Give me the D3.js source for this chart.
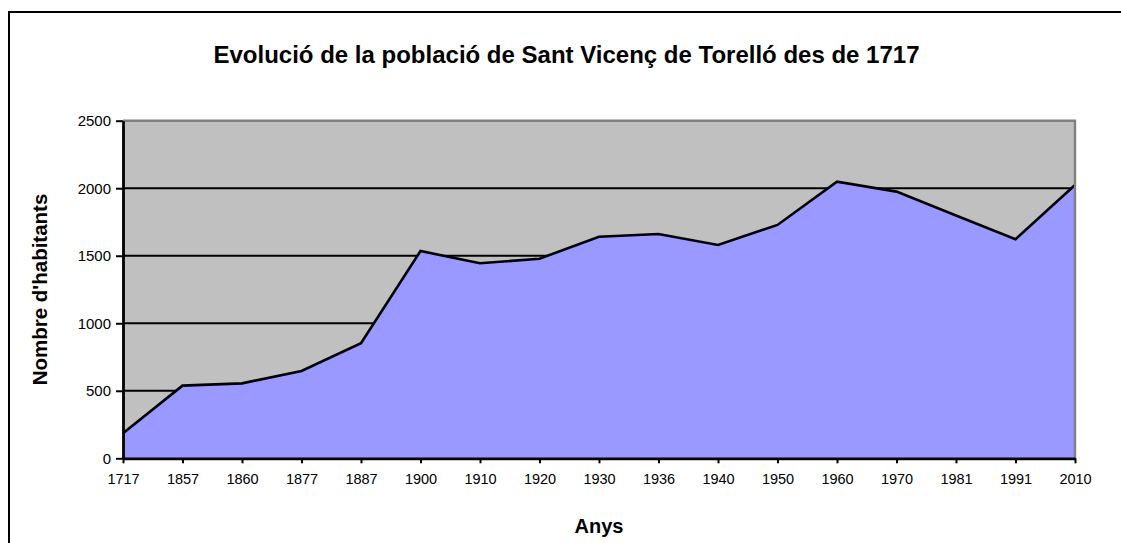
<!DOCTYPE html>
<html>
<head>
<meta charset="utf-8">
<script src="https://cdn.jsdelivr.net/npm/d3@7"></script>
<style>
  body { margin: 0; background: #fff; }
  svg { display: block; font-family: "Liberation Sans", Arial, sans-serif; }
</style>
</head>
<body>
<svg id="chart" width="1121" height="543"></svg>
<script>
// Dades: població per any
var anys = ["1717", "1857", "1860", "1877", "1887", "1900", "1910", "1920", "1930",
            "1936", "1940", "1950", "1960", "1970", "1981", "1991", "2010"];
var habitants = [185, 538, 555, 647, 852, 1535, 1444, 1478, 1641,
                 1661, 1580, 1728, 2049, 1975, 1798, 1622, 2024];
var yTicks = [0, 500, 1000, 1500, 2000, 2500];

var svg = d3.select("#chart");

// Mides de l'àrea del gràfic
var plotLeft = 123, plotRight = 1075, plotTop = 120.7, plotBottom = 458.3;

var x = d3.scalePoint().domain(anys).range([plotLeft, plotRight]);
var y = d3.scaleLinear().domain([0, 2500]).range([plotBottom, plotTop]);

var data = anys.map(function (a, i) { return { any: a, v: habitants[i] }; });

// Marc exterior (només es veuen la vora esquerra i la superior)
svg.append("path")
  .attr("d", "M9,560V12H1130")
  .attr("fill", "none").attr("stroke", "#000").attr("stroke-width", 2);

// Fons de la zona de traçat
svg.append("rect")
  .attr("x", plotLeft).attr("y", plotTop)
  .attr("width", plotRight - plotLeft).attr("height", plotBottom - plotTop)
  .attr("fill", "#C0C0C0");

// Línies de quadrícula
svg.append("g")
  .selectAll("line")
  .data(yTicks.filter(function (t) { return t > 0 && t < 2500; }))
  .enter().append("line")
  .attr("x1", plotLeft).attr("x2", plotRight)
  .attr("y1", function (d) { return y(d); })
  .attr("y2", function (d) { return y(d); })
  .attr("stroke", "#000").attr("stroke-width", 2);

// Àrea
var area = d3.area()
  .x(function (d) { return x(d.any); })
  .y0(y(0))
  .y1(function (d) { return y(d.v); });

svg.append("path")
  .datum(data)
  .attr("d", area)
  .attr("fill", "#9999FF");

var line = d3.line()
  .x(function (d) { return x(d.any); })
  .y(function (d) { return y(d.v); });

svg.append("path")
  .datum(data)
  .attr("d", line)
  .attr("fill", "none")
  .attr("stroke", "#000")
  .attr("stroke-width", 2.6);

// Vora superior i dreta
svg.append("path")
  .attr("d", "M" + plotLeft + "," + plotTop + "H" + plotRight + "V" + plotBottom)
  .attr("fill", "none").attr("stroke", "#808080").attr("stroke-width", 2.4);

// Eix Y
var yAxis = svg.append("g")
  .attr("transform", "translate(" + plotLeft + ",0)")
  .call(d3.axisLeft(y).tickValues(yTicks).tickFormat(d3.format("d"))
    .tickSize(7).tickPadding(5).tickSizeOuter(0));
yAxis.attr("font-family", "Liberation Sans, Arial, sans-serif").attr("font-size", "15px");
yAxis.select(".domain").attr("stroke", "#000").attr("stroke-width", 2.8);
yAxis.selectAll(".tick line").attr("stroke", "#000").attr("stroke-width", 2);
yAxis.selectAll(".tick text").attr("fill", "#000");

// Eix X
var xAxis = svg.append("g")
  .attr("transform", "translate(0," + plotBottom + ")")
  .call(d3.axisBottom(x).tickSize(5).tickPadding(10).tickSizeOuter(0));
xAxis.attr("font-family", "Liberation Sans, Arial, sans-serif").attr("font-size", "14.5px");
xAxis.select(".domain").attr("stroke", "#000").attr("stroke-width", 2.8);
xAxis.selectAll(".tick line").attr("stroke", "#000").attr("stroke-width", 2);
xAxis.selectAll(".tick text").attr("fill", "#000");

// Títols
svg.append("text")
  .attr("x", 566.5).attr("y", 63)
  .attr("text-anchor", "middle")
  .attr("font-size", "24px").attr("font-weight", "bold")
  .text("Evolució de la població de Sant Vicenç de Torelló des de 1717");

svg.append("text")
  .attr("x", (plotLeft + plotRight) / 2).attr("y", 533)
  .attr("text-anchor", "middle")
  .attr("font-size", "20px").attr("font-weight", "bold")
  .text("Anys");

svg.append("text")
  .attr("transform", "translate(46.5," + (plotTop + plotBottom) / 2 + ") rotate(-90)")
  .attr("text-anchor", "middle")
  .attr("font-size", "20.5px").attr("font-weight", "bold")
  .text("Nombre d'habitants");
</script>
</body>
</html>
